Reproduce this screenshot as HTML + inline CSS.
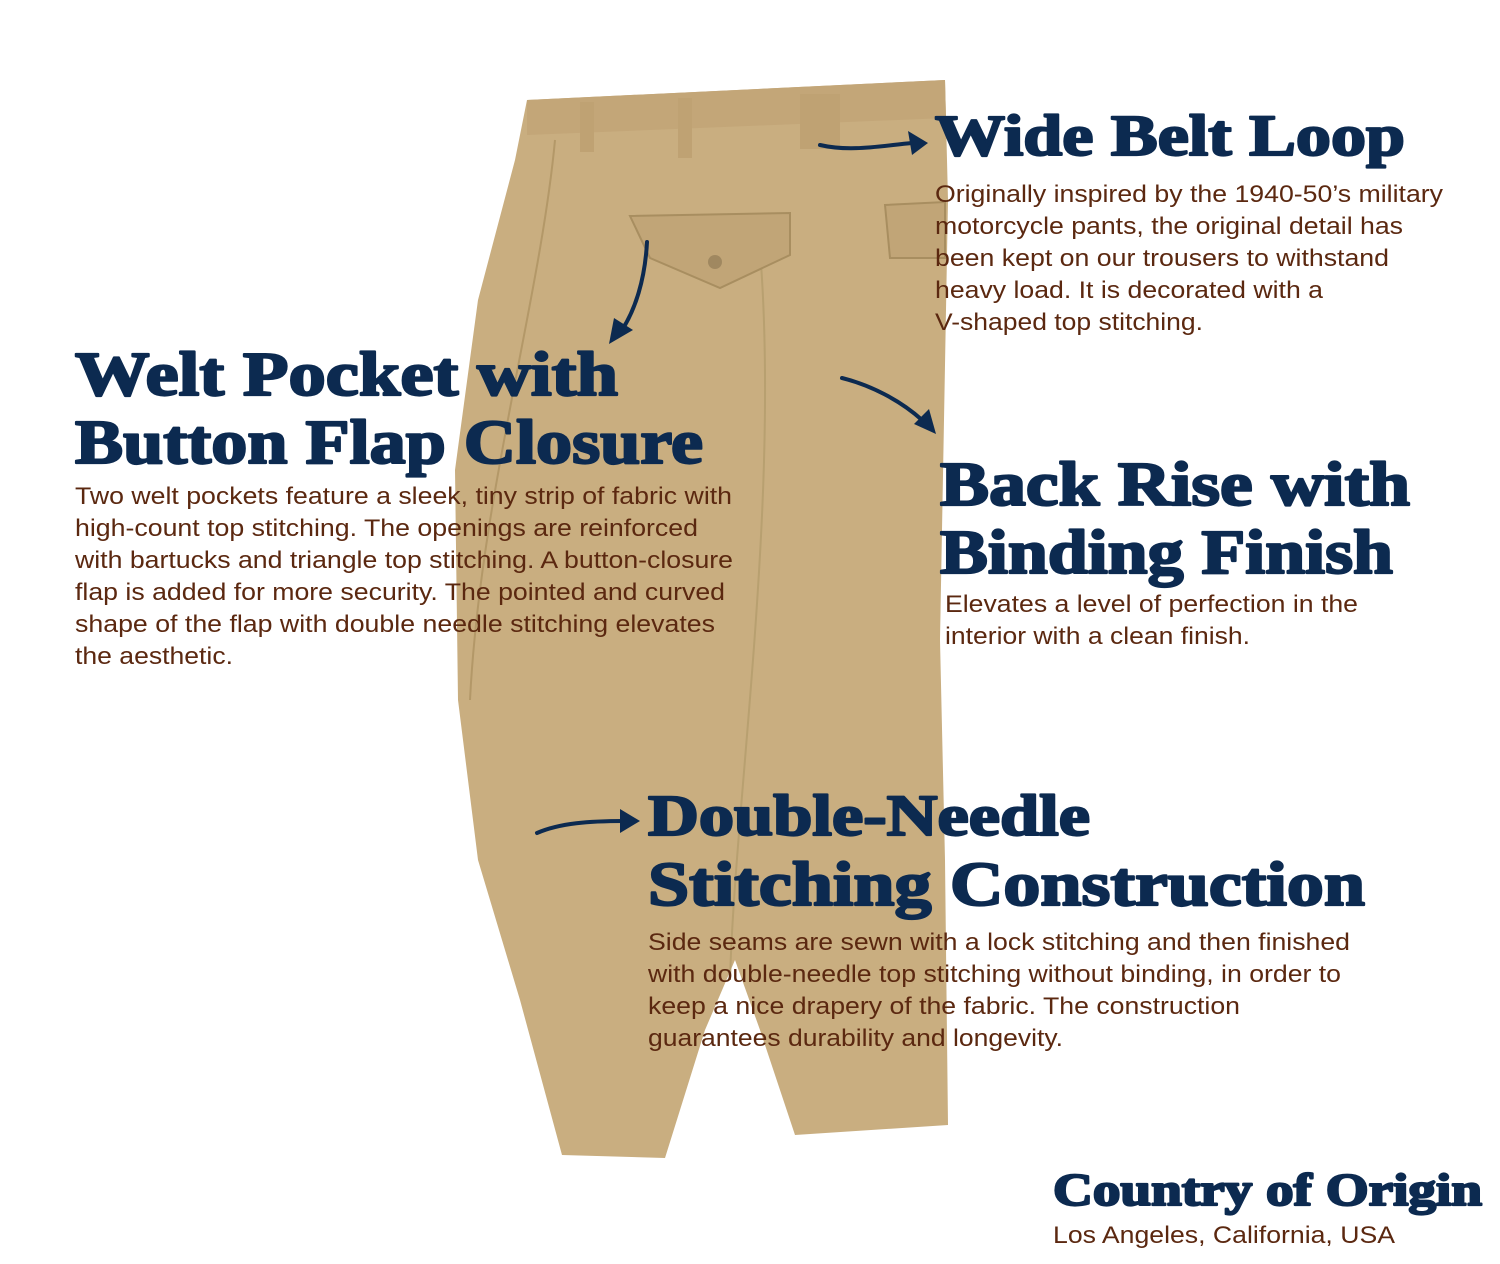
<!DOCTYPE html>
<html><head><meta charset="utf-8"><style>
html,body{margin:0;padding:0;background:#fff;}
svg{display:block;}
.h{font-family:"Liberation Serif",serif;font-weight:bold;fill:#0c2a50;stroke:#0c2a50;stroke-width:2.2px;stroke-linejoin:round;}
.b{font-family:"Liberation Sans",sans-serif;font-size:24px;fill:#5b2810;}
</style></head><body>
<svg width="1500" height="1264" viewBox="0 0 1500 1264" xmlns="http://www.w3.org/2000/svg">
<path d="M527,100 L945,80 L948,200 L944,420 L940,640 L945,860 L948,1125 L795,1135 L760,1030 L735,960 L705,1030 L665,1158 L562,1155 L520,1000 L478,860 L458,700 L455,470 L478,300 L515,160 Z" fill="#c9ae80"/>
<path d="M527,100 L945,80 L946,118 L527,135 Z" fill="#c3a678"/>
<path d="M555,140 C540,300 480,500 470,700" stroke="#b39868" stroke-width="2" fill="none"/>
<path d="M760,250 C780,500 735,800 730,980" stroke="#b8a070" stroke-width="2" fill="none"/>
<path d="M630,216 L790,213 L790,255 L720,288 L650,258 Z" fill="#c1a577" stroke="#a88e60" stroke-width="2"/>
<circle cx="715" cy="262" r="7" fill="#a08860"/>
<path d="M885,205 L945,202 L945,258 L890,258 Z" fill="#c1a577" stroke="#a88e60" stroke-width="2"/>
<rect x="580" y="102" width="14" height="50" fill="#bfa273"/>
<rect x="678" y="98" width="14" height="60" fill="#bfa273"/>
<rect x="800" y="94" width="40" height="55" fill="#bfa273"/>
<g stroke="#0c2a50" stroke-width="4" fill="none" stroke-linecap="round">
<path d="M820,145 C850,152 880,146 912,143"/>
<path d="M647,242 C645,280 635,310 622,330"/>
<path d="M842,378 C870,385 900,400 922,420"/>
<path d="M537,833 C560,823 590,821 624,821"/>
</g>
<g fill="#0c2a50">
<polygon points="928,143 908,131 912,155"/>
<polygon points="609,344 614,318 633,330"/>
<polygon points="936,434 914,424 929,409"/>
<polygon points="640,821 620,809 620,833"/>
</g>
<text class="h" x="935" y="155" font-size="58" textLength="470" lengthAdjust="spacingAndGlyphs">Wide Belt Loop</text>
<text class="h" x="75" y="395" font-size="62" textLength="543" lengthAdjust="spacingAndGlyphs">Welt Pocket with</text>
<text class="h" x="75" y="463" font-size="62" textLength="628" lengthAdjust="spacingAndGlyphs">Button Flap Closure</text>
<text class="h" x="940" y="505" font-size="62" textLength="470" lengthAdjust="spacingAndGlyphs">Back Rise with</text>
<text class="h" x="940" y="573" font-size="62" textLength="453" lengthAdjust="spacingAndGlyphs">Binding Finish</text>
<text class="h" x="648" y="835" font-size="58" textLength="442" lengthAdjust="spacingAndGlyphs">Double-Needle</text>
<text class="h" x="648" y="905" font-size="62" textLength="717" lengthAdjust="spacingAndGlyphs">Stitching Construction</text>
<text class="h" x="1053" y="1205" font-size="46" textLength="429" lengthAdjust="spacingAndGlyphs">Country of Origin</text>
<g class="b">
<text x="935" y="202" textLength="508" lengthAdjust="spacingAndGlyphs">Originally inspired by the 1940-50’s military</text>
<text x="935" y="234" textLength="468" lengthAdjust="spacingAndGlyphs">motorcycle pants, the original detail has</text>
<text x="935" y="266" textLength="454" lengthAdjust="spacingAndGlyphs">been kept on our trousers to withstand</text>
<text x="935" y="298" textLength="388" lengthAdjust="spacingAndGlyphs">heavy load. It is decorated with a</text>
<text x="935" y="330" textLength="268" lengthAdjust="spacingAndGlyphs">V-shaped top stitching.</text>
<text x="75" y="504" textLength="657" lengthAdjust="spacingAndGlyphs">Two welt pockets feature a sleek, tiny strip of fabric with</text>
<text x="75" y="536" textLength="623" lengthAdjust="spacingAndGlyphs">high-count top stitching. The openings are reinforced</text>
<text x="75" y="568" textLength="658" lengthAdjust="spacingAndGlyphs">with bartucks and triangle top stitching. A button-closure</text>
<text x="75" y="600" textLength="650" lengthAdjust="spacingAndGlyphs">flap is added for more security. The pointed and curved</text>
<text x="75" y="632" textLength="640" lengthAdjust="spacingAndGlyphs">shape of the flap with double needle stitching elevates</text>
<text x="75" y="664" textLength="158" lengthAdjust="spacingAndGlyphs">the aesthetic.</text>
<text x="945" y="612" textLength="413" lengthAdjust="spacingAndGlyphs">Elevates a level of perfection in the</text>
<text x="945" y="644" textLength="305" lengthAdjust="spacingAndGlyphs">interior with a clean finish.</text>
<text x="648" y="950" textLength="702" lengthAdjust="spacingAndGlyphs">Side seams are sewn with a lock stitching and then finished</text>
<text x="648" y="982" textLength="693" lengthAdjust="spacingAndGlyphs">with double-needle top stitching without binding, in order to</text>
<text x="648" y="1014" textLength="592" lengthAdjust="spacingAndGlyphs">keep a nice drapery of the fabric. The construction</text>
<text x="648" y="1046" textLength="415" lengthAdjust="spacingAndGlyphs">guarantees durability and longevity.</text>
<text x="1053" y="1243" textLength="342" lengthAdjust="spacingAndGlyphs">Los Angeles, California, USA</text>
</g>
</svg>
</body></html>
